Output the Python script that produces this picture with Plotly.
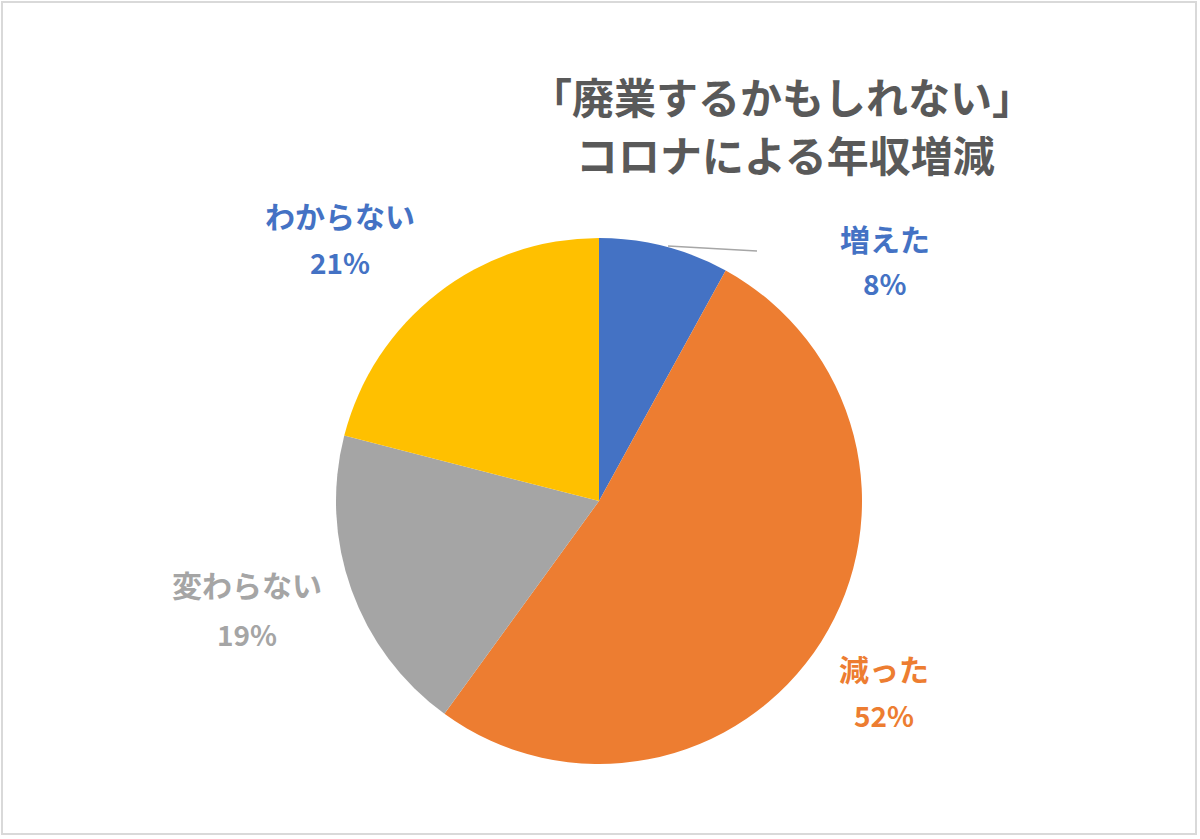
import plotly.graph_objects as go

categories = ["増えた", "減った", "変わらない", "わからない"]
values = [8, 52, 19, 21]
slice_colors = ["#4472C4", "#ED7D31", "#A5A5A5", "#FFC000"]
label_colors = ["#4472C4", "#ED7D31", "#A5A5A5", "#4472C4"]
title_lines = ["「廃業するかもしれない」", "コロナによる年収増減"]

W, H = 1200, 839
FONT = "Noto Sans CJK JP"

cx, cy, r = 599, 501, 263

def px(x):
    return x / W

def py(y):
    return 1 - y / H

fig = go.Figure(go.Pie(
    labels=categories,
    values=values,
    sort=False,
    direction="clockwise",
    rotation=0,
    marker=dict(colors=slice_colors, line=dict(width=0)),
    textinfo="none",
    hoverinfo="label+percent",
    showlegend=False,
    domain=dict(x=[px(cx - r), px(cx + r)], y=[py(cy + r), py(cy - r)]),
))

# label positions (pixel) for each category: name line and percent line
label_pos = [(885, 238, 283), (884, 668, 715), (247, 584, 634), (340, 215, 262)]
annotations = []
for cat, val, col, (x, y1, y2) in zip(categories, values, label_colors, label_pos):
    annotations.append(dict(x=px(x), y=py(y1), xref="paper", yref="paper", text=f"<b>{cat}</b>",
                            showarrow=False, font=dict(family=FONT, size=30, color=col),
                            xanchor="center", yanchor="middle"))
    annotations.append(dict(x=px(x), y=py(y2), xref="paper", yref="paper", text=f"<b>{val}%</b>",
                            showarrow=False, font=dict(family=FONT, size=28, color=col),
                            xanchor="center", yanchor="middle"))

for i, (line, y) in enumerate(zip(title_lines, [95, 154])):
    annotations.append(dict(x=px(782 if i == 0 else 785), y=py(y), xref="paper", yref="paper",
                            text=f"<b>{line}</b>", showarrow=False,
                            font=dict(family=FONT, size=42, color="#595959"),
                            xanchor="center", yanchor="middle"))

shapes = [
    dict(type="rect", xref="paper", yref="paper", x0=px(2), x1=px(1196), y0=py(834), y1=py(2),
         line=dict(color="#D9D9D9", width=2), fillcolor="rgba(0,0,0,0)", layer="below"),
    dict(type="line", xref="paper", yref="paper", x0=px(668), y0=py(246), x1=px(757), y1=py(251),
         line=dict(color="#A6A6A6", width=1.5)),
]

fig.update_layout(
    width=W, height=H,
    margin=dict(l=0, r=0, t=0, b=0),
    paper_bgcolor="white",
    plot_bgcolor="white",
    annotations=annotations,
    shapes=shapes,
    font=dict(family=FONT),
)

fig.write_html("out.html")
